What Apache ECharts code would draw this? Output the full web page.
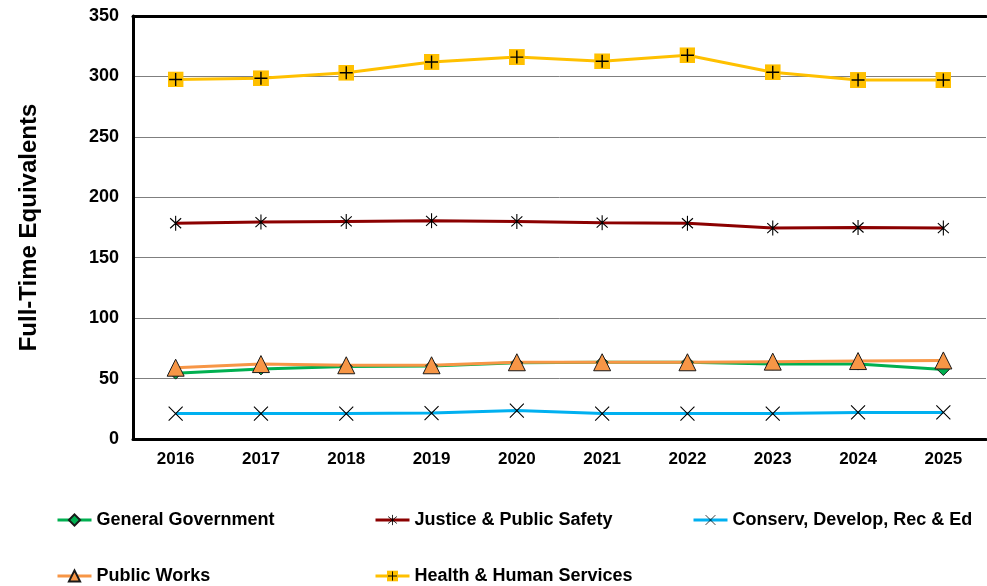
<!DOCTYPE html>
<html>
<head>
<meta charset="utf-8">
<script src="https://cdn.jsdelivr.net/npm/echarts@6/dist/echarts.min.js"></script>
<style>html,body{margin:0;padding:0;background:#fff;}#c{width:987px;height:586px;}</style>
</head>
<body>
<div id="c"></div>
<script>
const years = ['2016','2017','2018','2019','2020','2021','2022','2023','2024','2025'];
const generalGovernment = [54.5, 58, 60, 60.5, 63, 63.5, 63.5, 62, 62, 57.5];
const justicePublicSafety = [178.5, 179.5, 180, 180.5, 180, 179, 178.5, 174.5, 175, 174.5];
const conservDevelop = [21, 21, 21, 21.5, 23.5, 21, 21, 21, 22, 22];
const publicWorks = [59, 62, 61, 61, 63.5, 63.5, 63.5, 64, 64.5, 65];
const healthHumanServices = [297.5, 298.5, 303, 312, 316, 312.5, 317.5, 303.5, 297, 297];
const yTicks = [0, 50, 100, 150, 200, 250, 300, 350];

function svgUri(s){ return 'image://data:image/svg+xml;utf8,' + encodeURIComponent(s); }
const plusSym = svgUri('<svg xmlns="http://www.w3.org/2000/svg" width="16" height="16" viewBox="0 0 16 16"><rect x="0" y="0" width="16" height="16" fill="#FFC000"/><path d="M8 1.5V14.5M1.5 8H14.5" stroke="#000" stroke-width="1.4"/></svg>');
const starSym = svgUri('<svg xmlns="http://www.w3.org/2000/svg" width="14" height="16" viewBox="0 0 14 16"><path d="M7 0.5V15.5M1.5 3L12.5 13M12.5 3L1.5 13" stroke="#000" stroke-width="1.1" fill="none"/></svg>');
const xSym = svgUri('<svg xmlns="http://www.w3.org/2000/svg" width="16" height="16" viewBox="0 0 16 16"><path d="M1 1L15 15M15 1L1 15" stroke="#000" stroke-width="1.1" fill="none"/></svg>');

const font = 'Liberation Sans, Arial, sans-serif';
const chart = echarts.init(document.getElementById('c'));

function legendAt(name, left, top){
  return {
    data: [name], left: left, top: top, padding: 0, itemWidth: 34, itemHeight: 14, itemGap: 0,
    lineStyle: {width: 3},
    textStyle: {fontFamily: font, fontWeight: 'bold', fontSize: 18, color: '#000'}
  };
}

chart.setOption({
  animation: false,
  backgroundColor: '#fff',
  grid: {left: 133, right: 1, top: 16, bottom: 147, containLabel: false},
  legend: [
    legendAt('General Government', 56, 511),
    legendAt('Justice & Public Safety', 374, 511),
    legendAt('Conserv, Develop, Rec & Ed', 692, 511),
    legendAt('Public Works', 56, 567),
    legendAt('Health & Human Services', 374, 567)
  ],
  xAxis: [{
    type: 'category', data: years, boundaryGap: true,
    axisLine: {lineStyle: {color: '#000', width: 3}},
    axisTick: {show: false},
    axisLabel: {fontFamily: font, fontWeight: 'bold', fontSize: 17, color: '#000', margin: 12}
  }, {
    type: 'category', data: years, position: 'top', boundaryGap: true,
    axisLine: {lineStyle: {color: '#000', width: 3}},
    axisTick: {show: false}, axisLabel: {show: false}
  }],
  yAxis: {
    type: 'value', min: yTicks[0], max: yTicks[yTicks.length - 1], interval: 50,
    name: 'Full-Time Equivalents', nameLocation: 'middle', nameGap: 92,
    nameTextStyle: {fontFamily: font, fontWeight: 'bold', fontSize: 24, color: '#000'},
    axisLine: {show: true, lineStyle: {color: '#000', width: 3}},
    axisTick: {show: false},
    axisLabel: {fontFamily: font, fontWeight: 'bold', fontSize: 18, color: '#000', margin: 14},
    splitLine: {lineStyle: {color: '#7f7f7f', width: 1}}
  },
  series: [
    {name: 'General Government', type: 'line', data: generalGovernment, symbol: 'diamond', symbolSize: 12,
     lineStyle: {color: '#00B050', width: 3}, itemStyle: {color: '#00B050', borderColor: '#1a1a1a', borderWidth: 1}},
    {name: 'Justice & Public Safety', type: 'line', data: justicePublicSafety, symbol: starSym, symbolSize: [14, 16],
     lineStyle: {color: '#8B0000', width: 3}, itemStyle: {color: '#8B0000'}},
    {name: 'Conserv, Develop, Rec & Ed', type: 'line', data: conservDevelop, symbol: xSym, symbolSize: 16,
     lineStyle: {color: '#00B0F0', width: 3}, itemStyle: {color: '#00B0F0'}},
    {name: 'Public Works', type: 'line', data: publicWorks, symbol: 'triangle', symbolSize: 17,
     lineStyle: {color: '#F79646', width: 3}, itemStyle: {color: '#F79646', borderColor: '#1a1a1a', borderWidth: 1}},
    {name: 'Health & Human Services', type: 'line', data: healthHumanServices, symbol: plusSym, symbolSize: 16,
     lineStyle: {color: '#FFC000', width: 3}, itemStyle: {color: '#FFC000'}}
  ]
});
</script>
</body>
</html>
